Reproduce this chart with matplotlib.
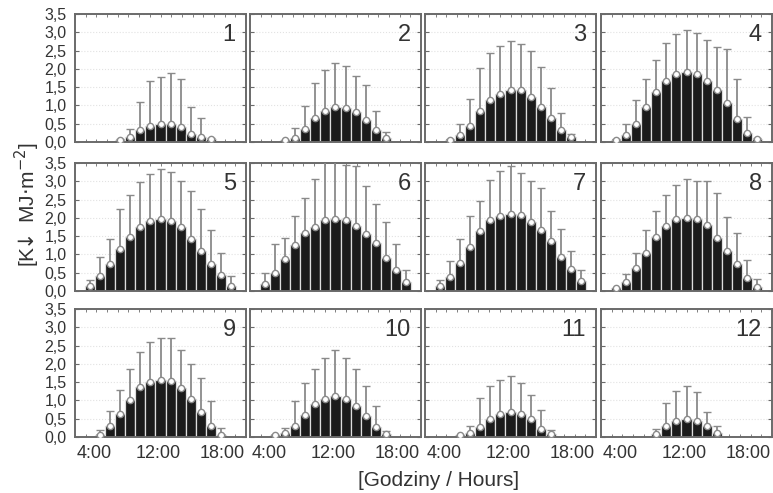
import numpy as np
import matplotlib.pyplot as plt
from matplotlib.ticker import FuncFormatter

plt.rcParams['font.family'] = ['Liberation Sans', 'DejaVu Sans']

# hourly slots 3..19, first hour with a bar for each month
hours = list(range(3, 20))
first_hour = [7, 6, 5, 4, 4, 4, 4, 4, 5, 5, 6, 8]

# mean hourly sums and mean + SD (top of whisker), MJ m-2
m01_mean = [0.05, 0.14, 0.32, 0.44, 0.50, 0.50, 0.41, 0.23, 0.14, 0.08]
m01_up = [0.07, 0.36, 1.09, 1.68, 1.79, 1.89, 1.71, 0.95, 0.65, 0.10]
m02_mean = [0.05, 0.12, 0.35, 0.66, 0.85, 0.95, 0.94, 0.82, 0.59, 0.32, 0.12]
m02_up = [0.06, 0.39, 0.99, 1.61, 1.97, 2.16, 2.08, 1.81, 1.57, 0.86, 0.27]
m03_mean = [0.06, 0.18, 0.44, 0.84, 1.16, 1.31, 1.41, 1.41, 1.23, 0.97, 0.66, 0.32, 0.14]
m03_up = [0.08, 0.50, 1.18, 2.02, 2.43, 2.62, 2.75, 2.68, 2.50, 2.05, 1.48, 0.79, 0.23]
m04_mean = [0.05, 0.20, 0.50, 0.95, 1.36, 1.68, 1.85, 1.91, 1.85, 1.68, 1.41, 1.06, 0.64, 0.25, 0.08]
m04_up = [0.07, 0.50, 1.14, 1.71, 2.25, 2.70, 2.95, 3.06, 2.99, 2.80, 2.61, 2.53, 1.71, 0.68, 0.12]
m05_mean = [0.14, 0.41, 0.75, 1.15, 1.48, 1.75, 1.91, 1.97, 1.91, 1.75, 1.41, 1.09, 0.75, 0.43, 0.15]
m05_up = [0.30, 0.93, 1.41, 2.25, 2.62, 2.97, 3.20, 3.34, 3.25, 3.00, 2.73, 2.25, 1.66, 1.03, 0.41]
m06_mean = [0.18, 0.50, 0.88, 1.25, 1.59, 1.75, 1.94, 1.97, 1.94, 1.79, 1.56, 1.30, 0.91, 0.57, 0.25]
m06_up = [0.50, 1.29, 1.45, 2.05, 2.55, 3.06, 3.62, 3.70, 3.45, 3.41, 2.86, 2.39, 1.88, 1.29, 0.57]
m07_mean = [0.14, 0.39, 0.77, 1.21, 1.64, 1.94, 2.05, 2.11, 2.07, 1.88, 1.66, 1.38, 0.93, 0.59, 0.27]
m07_up = [0.30, 0.82, 1.41, 2.06, 2.45, 3.03, 3.27, 3.43, 3.23, 3.02, 2.82, 2.20, 1.70, 1.09, 0.57]
m08_mean = [0.07, 0.25, 0.64, 1.05, 1.48, 1.79, 1.98, 2.00, 1.97, 1.80, 1.45, 1.09, 0.75, 0.35, 0.11]
m08_up = [0.08, 0.47, 1.05, 1.66, 2.20, 2.62, 2.89, 3.06, 3.02, 3.02, 2.68, 2.03, 1.59, 0.86, 0.34]
m09_mean = [0.06, 0.29, 0.62, 1.01, 1.36, 1.50, 1.56, 1.54, 1.33, 1.04, 0.67, 0.29, 0.06]
m09_up = [0.18, 0.71, 1.28, 1.85, 2.32, 2.60, 2.71, 2.71, 2.39, 1.99, 1.61, 0.99, 0.25]
m10_mean = [0.05, 0.12, 0.29, 0.60, 0.90, 1.04, 1.12, 1.04, 0.84, 0.57, 0.28, 0.07]
m10_up = [0.06, 0.25, 0.99, 1.47, 1.86, 2.16, 2.39, 2.16, 1.85, 1.39, 0.84, 0.16]
m11_mean = [0.05, 0.12, 0.28, 0.50, 0.62, 0.69, 0.64, 0.49, 0.23, 0.07]
m11_up = [0.06, 0.30, 1.06, 1.39, 1.56, 1.67, 1.47, 1.15, 0.75, 0.18]
m12_mean = [0.09, 0.29, 0.44, 0.50, 0.44, 0.29, 0.12]
m12_up = [0.23, 0.92, 1.27, 1.39, 1.24, 0.67, 0.30]

means = [m01_mean, m02_mean, m03_mean, m04_mean, m05_mean, m06_mean,
         m07_mean, m08_mean, m09_mean, m10_mean, m11_mean, m12_mean]
uppers = [m01_up, m02_up, m03_up, m04_up, m05_up, m06_up,
          m07_up, m08_up, m09_up, m10_up, m11_up, m12_up]

tick_labels = ["4:00", "12:00", "18:00"]

W, H = 773, 493
fig = plt.figure(figsize=(W / 100, H / 100), dpi=100)

col_left = [75, 250, 425, 601]
row_top = [14, 163, 309]
pw, ph = 171, 128
txt = '#333333'
edge = '#6a6a6a'

for i in range(12):
    r, c = divmod(i, 4)
    ax = fig.add_axes([col_left[c] / W, 1 - (row_top[r] + ph) / H, pw / W, ph / H])
    x = np.arange(len(means[i])) + (first_hour[i] - hours[0])
    m = np.array(means[i])
    up = np.array(uppers[i])

    ax.bar(x, m, width=1.0, color='#1b1b1b', edgecolor='#dddddd', linewidth=0.9, zorder=2)
    ax.errorbar(x, m, yerr=[np.zeros_like(m), up - m], fmt='o', ms=4.5,
                mfc='white', mec='#8a8a8a', mew=1.0, ecolor='#8a8a8a',
                elinewidth=1.3, capsize=3, capthick=1.3, zorder=3, clip_on=True)

    ax.set_xlim(-0.5, len(hours) - 0.5)
    ax.set_ylim(0, 3.5)
    ax.set_yticks(np.arange(0, 3.51, 0.5))
    ax.yaxis.set_major_formatter(FuncFormatter(lambda v, p: f"{v:.1f}".replace('.', ',')))
    ax.grid(axis='y', color='#e2e2e2', linestyle=':', linewidth=0.8, zorder=0)

    ax.set_xticks([1.45, 7.8, 14.1])
    ax.set_xticks(np.linspace(-0.5, len(hours) - 0.5, 17), minor=True)
    ax.tick_params(axis='x', which='major', length=0, pad=6, labelsize=13, colors=txt)
    ax.tick_params(axis='x', which='minor', direction='in', length=2.5, top=True,
                   bottom=True, color=edge)
    ax.tick_params(axis='y', direction='in', length=3, left=True, right=True,
                   labelsize=11.5, colors=txt, pad=6)
    ax.tick_params(axis='y', color=edge)

    if r == 2:
        ax.set_xticklabels(tick_labels)
    else:
        ax.set_xticklabels([])
    if c != 0:
        ax.set_yticklabels([])

    for s in ax.spines.values():
        s.set_color(edge)
        s.set_linewidth(1.4)

    ax.text(0.94, 0.92, str(i + 1), transform=ax.transAxes, ha='right', va='top',
            fontsize=17, color=txt)

fig.text(27 / W, 1 - 205 / H, r"[K$\!\!\downarrow$ MJ$\cdot$m$^{-2}$]", rotation=90,
         ha='center', va='center', fontsize=15, color=txt)
fig.text(439 / W, 1 - 481 / H, "[Godziny / Hours]", ha='center', va='center',
         fontsize=15, color=txt)

fig.savefig("out.png", dpi=100)
